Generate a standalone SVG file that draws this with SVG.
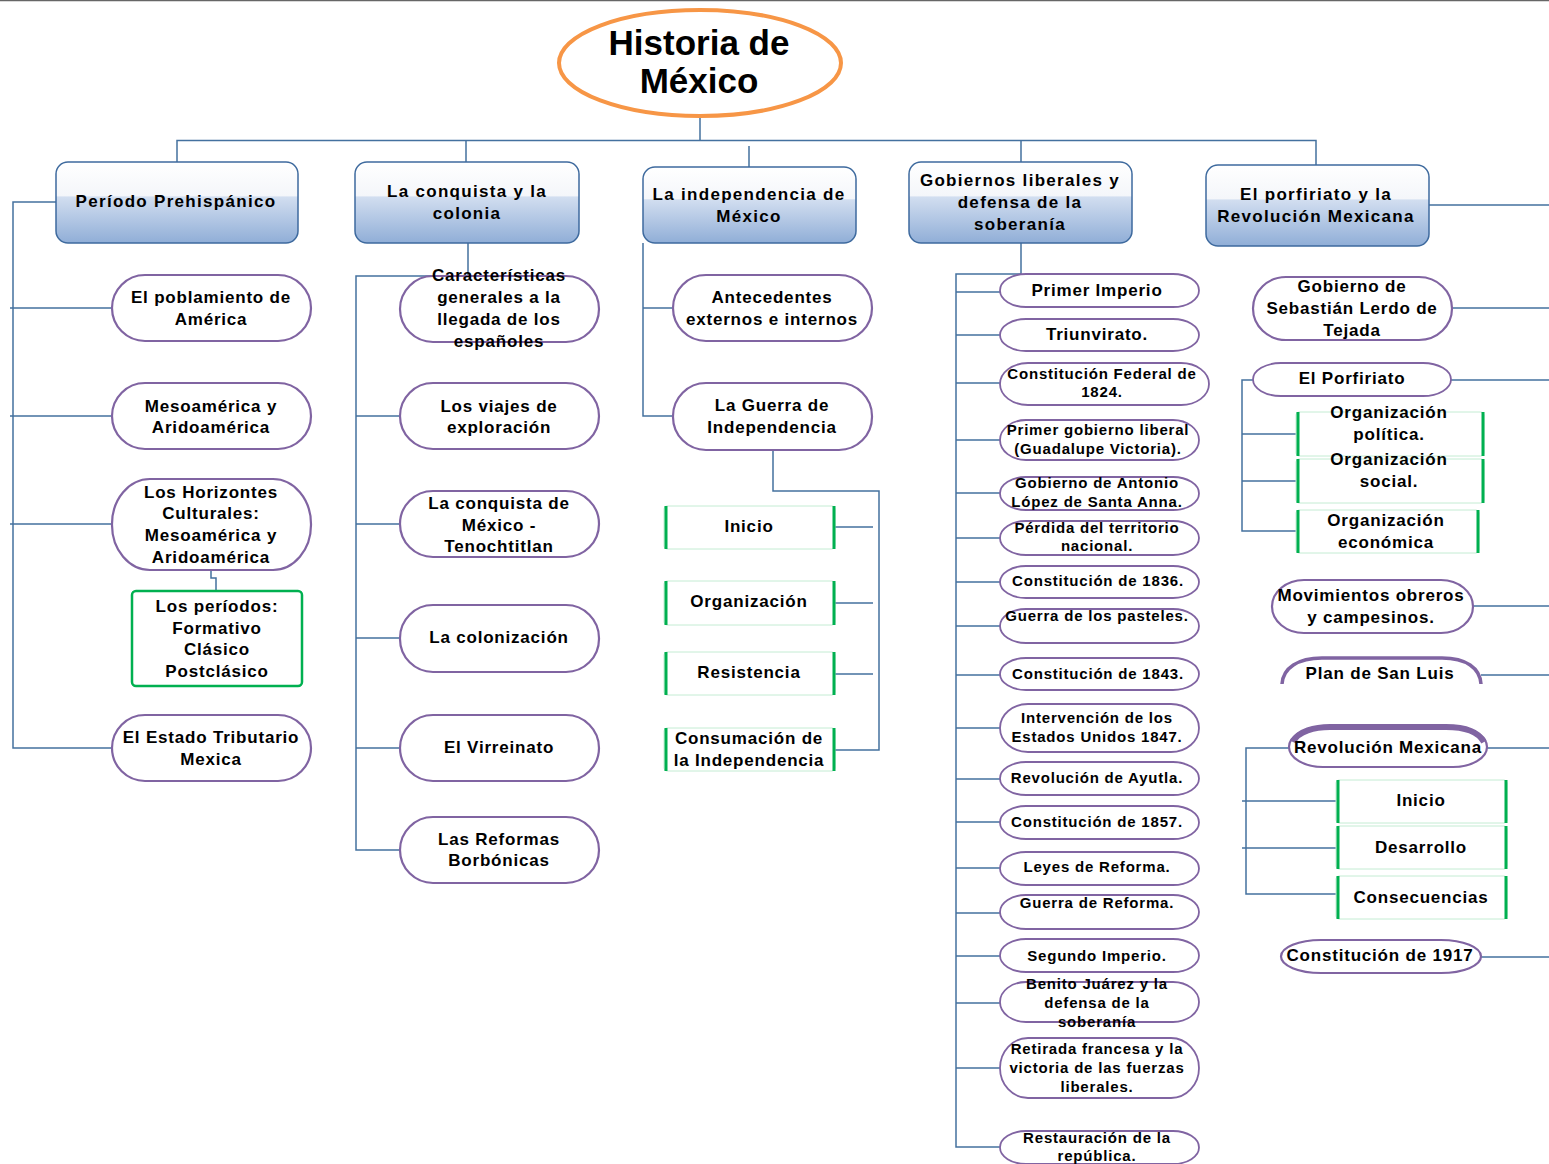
<svg xmlns="http://www.w3.org/2000/svg" width="1549" height="1164" viewBox="0 0 1549 1164">
<defs>
<linearGradient id="hg" x1="0" y1="0" x2="0" y2="1">
<stop offset="0" stop-color="#ffffff"/><stop offset="0.42" stop-color="#f4f6fa"/><stop offset="0.43" stop-color="#d2def0"/><stop offset="1" stop-color="#90aed7"/>
</linearGradient>
<style>
text{font-family:"Liberation Sans",Arial,sans-serif;font-weight:bold;fill:#000;text-anchor:middle}
.t{font-size:35px}
.h{font-size:17px;letter-spacing:1.3px}
.n{font-size:17px;letter-spacing:0.8px}
.s{font-size:15px;letter-spacing:0.8px}
.hdr{fill:url(#hg);stroke:#3e6a9e;stroke-width:1.5}
.pill{fill:#fff;stroke:#8064a2;stroke-width:2.2}
.sp{fill:#fff;stroke:#8064a2;stroke-width:1.8}
.gb{fill:#fff;stroke:#c4ecd3;stroke-width:1}
.gs{stroke:#00b050;stroke-width:3;fill:none}
.gf{fill:#fff;stroke:#00b050;stroke-width:2.5}
#connectors path{fill:none;stroke:#44719f;stroke-width:1.5}
</style>
</defs>
<rect width="1549" height="1164" fill="#fff"/>
<line x1="0" y1="0.5" x2="1549" y2="0.5" stroke="#666" stroke-width="1.5"/>

<g id="connectors">
<path d="M700,116 V140.5 H177 V162 M700,140.5 H1316 V165 M466,140.5 V162 M749,146 V167 M1021,140.5 V162"/>
<path d="M56,202 H13 V748 H112 M10,308 H112 M10,416 H112 M10,524 H112 M211,570 V578 H216 V591"/>
<path d="M468,243 V276 H356 V850 H400 M356,416 H400 M356,524 H400 M356,638 H400 M356,748 H400"/>
<path d="M643,243 V416 H673 M643,308 H673 M773,450 V491 H879 V750 H835 M835,527 H873 M835,603 H873 M835,674 H873"/>
<path d="M1021,243 V274 H956 V1147 H1000 M956,292 H1000 M956,335 H1000 M956,383 H1000 M956,440 H1000 M956,493 H1000 M956,538 H1000 M956,582 H1000 M956,626 H1000 M956,675 H1000 M956,728 H1000 M956,779 H1000 M956,822 H1000 M956,868 H1000 M956,913 H1000 M956,956 H1000 M956,1003 H1000 M956,1068 H1000"/>
<path d="M1429,205 H1549 M1452,308 H1549 M1451,380 H1549 M1253,380 H1242 V531 H1296 M1242,434 H1296 M1242,481 H1296 M1473,606 H1549 M1481,675 H1549 M1487,748 H1549 M1289,748 H1246 V894 H1336 M1242,801 H1336 M1242,848 H1336 M1481,957 H1549"/>
</g>

<g id="root">
<ellipse cx="700" cy="63" rx="141" ry="53" fill="#fff" stroke="#f79646" stroke-width="4"/>
<text class="t" x="699" y="55">Historia de</text>
<text class="t" x="699" y="93">México</text>
</g>

<g id="h1"><rect class="hdr" x="56" y="162" width="242" height="81" rx="12"/><text class="h" x="176" y="207">Período Prehispánico</text></g>
<g id="h2"><rect class="hdr" x="355" y="162" width="224" height="81" rx="12"/><text class="h" x="467" y="197">La conquista y la</text><text class="h" x="467" y="219">colonia</text></g>
<g id="h3"><rect class="hdr" x="643" y="167" width="213" height="76" rx="12"/><text class="h" x="749" y="200">La independencia de</text><text class="h" x="749" y="222">México</text></g>
<g id="h4"><rect class="hdr" x="909" y="162" width="223" height="81" rx="12"/><text class="h" x="1020" y="186">Gobiernos liberales y</text><text class="h" x="1020" y="208">defensa de la</text><text class="h" x="1020" y="230">soberanía</text></g>
<g id="h5"><rect class="hdr" x="1206" y="165" width="223" height="81" rx="12"/><text class="h" x="1316" y="200">El porfiriato y la</text><text class="h" x="1316" y="222">Revolución Mexicana</text></g>

<!-- column 1 -->
<g id="c1a"><rect class="pill" x="112" y="275" width="199" height="66" rx="33"/><text class="n" x="211" y="303">El poblamiento de</text><text class="n" x="211" y="325">América</text></g>
<g id="c1b"><rect class="pill" x="112" y="383" width="199" height="66" rx="33"/><text class="n" x="211" y="412">Mesoamérica y</text><text class="n" x="211" y="433">Aridoamérica</text></g>
<g id="c1c"><rect class="pill" x="112" y="479" width="199" height="91" rx="38" ry="45"/><text class="n" x="211" y="498">Los Horizontes</text><text class="n" x="211" y="519">Culturales:</text><text class="n" x="211" y="541">Mesoamérica y</text><text class="n" x="211" y="563">Aridoamérica</text></g>
<g id="c1d"><rect class="gf" x="132" y="591" width="170" height="95" rx="4"/><text class="n" x="217" y="612">Los períodos:</text><text class="n" x="217" y="634">Formativo</text><text class="n" x="217" y="655">Clásico</text><text class="n" x="217" y="677">Postclásico</text></g>
<g id="c1e"><rect class="pill" x="112" y="715" width="199" height="66" rx="33"/><text class="n" x="211" y="743">El Estado Tributario</text><text class="n" x="211" y="765">Mexica</text></g>

<!-- column 2 -->
<g id="c2a"><rect class="pill" x="400" y="276" width="199" height="66" rx="33"/><text class="n" x="499" y="281">Características</text><text class="n" x="499" y="303">generales a la</text><text class="n" x="499" y="325">llegada de los</text><text class="n" x="499" y="347">españoles</text></g>
<g id="c2b"><rect class="pill" x="400" y="383" width="199" height="66" rx="33"/><text class="n" x="499" y="412">Los viajes de</text><text class="n" x="499" y="433">exploración</text></g>
<g id="c2c"><rect class="pill" x="400" y="491" width="199" height="66" rx="33"/><text class="n" x="499" y="509">La conquista de</text><text class="n" x="499" y="531">México -</text><text class="n" x="499" y="552">Tenochtitlan</text></g>
<g id="c2d"><rect class="pill" x="400" y="605" width="199" height="67" rx="33"/><text class="n" x="499" y="643">La colonización</text></g>
<g id="c2e"><rect class="pill" x="400" y="715" width="199" height="66" rx="33"/><text class="n" x="499" y="753">El Virreinato</text></g>
<g id="c2f"><rect class="pill" x="400" y="817" width="199" height="66" rx="33"/><text class="n" x="499" y="845">Las Reformas</text><text class="n" x="499" y="866">Borbónicas</text></g>

<!-- column 3 -->
<g id="c3a"><rect class="pill" x="673" y="275" width="199" height="66" rx="33"/><text class="n" x="772" y="303">Antecedentes</text><text class="n" x="772" y="325">externos e internos</text></g>
<g id="c3b"><rect class="pill" x="673" y="383" width="199" height="67" rx="33"/><text class="n" x="772" y="411">La Guerra de</text><text class="n" x="772" y="433">Independencia</text></g>
<g id="c3c"><rect class="gb" x="664" y="506" width="171" height="43" rx="3"/><path class="gs" d="M666,506 V549 M834,506 V549"/><text class="n" x="749" y="532">Inicio</text></g>
<g id="c3d"><rect class="gb" x="664" y="581" width="171" height="44" rx="3"/><path class="gs" d="M666,581 V625 M834,581 V625"/><text class="n" x="749" y="607">Organización</text></g>
<g id="c3e"><rect class="gb" x="664" y="652" width="171" height="43" rx="3"/><path class="gs" d="M666,652 V695 M834,652 V695"/><text class="n" x="749" y="678">Resistencia</text></g>
<g id="c3f"><rect class="gb" x="664" y="728" width="171" height="43" rx="3"/><path class="gs" d="M666,728 V771 M834,728 V771"/><text class="n" x="749" y="744">Consumación de</text><text class="n" x="749" y="766">la Independencia</text></g>

<!-- column 4 -->
<g id="c4a"><rect class="sp" x="1000" y="274" width="199" height="33" rx="26" ry="16.5"/><text class="n" x="1097" y="296">Primer Imperio</text></g>
<g id="c4b"><rect class="sp" x="1000" y="319" width="199" height="32" rx="26" ry="16"/><text class="n" x="1097" y="340">Triunvirato.</text></g>
<g id="c4c"><rect class="sp" x="1000" y="363" width="209" height="42" rx="28" ry="21"/><text class="s" x="1102" y="379">Constitución Federal de</text><text class="s" x="1102" y="397">1824.</text></g>
<g id="c4d"><rect class="sp" x="1000" y="420" width="199" height="40" rx="26" ry="20"/><text class="s" x="1098" y="435">Primer gobierno liberal</text><text class="s" x="1098" y="454">(Guadalupe Victoria).</text></g>
<g id="c4e"><rect class="sp" x="1000" y="477" width="199" height="33" rx="26" ry="16.5"/><text class="s" x="1097" y="488">Gobierno de Antonio</text><text class="s" x="1097" y="507">López de Santa Anna.</text></g>
<g id="c4f"><rect class="sp" x="1000" y="521" width="199" height="34" rx="26" ry="17"/><text class="s" x="1097" y="533">Pérdida del territorio</text><text class="s" x="1097" y="551">nacional.</text></g>
<g id="c4g"><rect class="sp" x="1000" y="566" width="199" height="32" rx="26" ry="16"/><text class="s" x="1098" y="586">Constitución de 1836.</text></g>
<g id="c4h"><rect class="sp" x="1000" y="609" width="199" height="34" rx="26" ry="17"/><text class="s" x="1097" y="621">Guerra de los pasteles.</text></g>
<g id="c4i"><rect class="sp" x="1000" y="658" width="199" height="32" rx="26" ry="16"/><text class="s" x="1098" y="679">Constitución de 1843.</text></g>
<g id="c4j"><rect class="sp" x="1000" y="704" width="199" height="48" rx="28" ry="24"/><text class="s" x="1097" y="723">Intervención de los</text><text class="s" x="1097" y="742">Estados Unidos 1847.</text></g>
<g id="c4k"><rect class="sp" x="1000" y="762" width="199" height="33" rx="26" ry="16.5"/><text class="s" x="1097" y="783">Revolución de Ayutla.</text></g>
<g id="c4l"><rect class="sp" x="1000" y="806" width="199" height="33" rx="26" ry="16.5"/><text class="s" x="1097" y="827">Constitución de 1857.</text></g>
<g id="c4m"><rect class="sp" x="1000" y="852" width="199" height="33" rx="26" ry="16.5"/><text class="s" x="1097" y="872">Leyes de Reforma.</text></g>
<g id="c4n"><rect class="sp" x="1000" y="895" width="199" height="34" rx="26" ry="17"/><text class="s" x="1097" y="908">Guerra de Reforma.</text></g>
<g id="c4o"><rect class="sp" x="1000" y="939" width="199" height="33" rx="26" ry="16.5"/><text class="s" x="1097" y="961">Segundo Imperio.</text></g>
<g id="c4p"><rect class="sp" x="1000" y="982" width="199" height="40" rx="26" ry="20"/><text class="s" x="1097" y="989">Benito Juárez y la</text><text class="s" x="1097" y="1008">defensa de la</text><text class="s" x="1097" y="1027">soberanía</text></g>
<g id="c4q"><rect class="sp" x="1000" y="1038" width="199" height="60" rx="28" ry="30"/><text class="s" x="1097" y="1054">Retirada francesa y la</text><text class="s" x="1097" y="1073">victoria de las fuerzas</text><text class="s" x="1097" y="1092">liberales.</text></g>
<g id="c4r"><rect class="sp" x="1000" y="1131" width="199" height="33" rx="26" ry="16.5"/><text class="s" x="1097" y="1143">Restauración de la</text><text class="s" x="1097" y="1161">república.</text></g>

<!-- column 5 -->
<g id="c5a"><rect class="pill" x="1253" y="277" width="199" height="63" rx="33" ry="31.5"/><text class="n" x="1352" y="292">Gobierno de</text><text class="n" x="1352" y="314">Sebastián Lerdo de</text><text class="n" x="1352" y="336">Tejada</text></g>
<g id="c5b"><rect class="sp" x="1253" y="363" width="198" height="33" rx="28" ry="16.5"/><text class="n" x="1352" y="384">El Porfiriato</text></g>
<g id="c5c"><rect class="gb" x="1296" y="412" width="188" height="44" rx="3"/><path class="gs" d="M1298,412 V456 M1483,412 V456"/><text class="n" x="1389" y="418">Organización</text><text class="n" x="1389" y="440">política.</text></g>
<g id="c5d"><rect class="gb" x="1296" y="459" width="188" height="44" rx="3"/><path class="gs" d="M1298,459 V503 M1483,459 V503"/><text class="n" x="1389" y="465">Organización</text><text class="n" x="1389" y="487">social.</text></g>
<g id="c5e"><rect class="gb" x="1296" y="510" width="183" height="43" rx="3"/><path class="gs" d="M1298,510 V553 M1478,510 V553"/><text class="n" x="1386" y="526">Organización</text><text class="n" x="1386" y="548">económica</text></g>
<g id="c5f"><rect class="pill" x="1272" y="580" width="201" height="53" rx="32" ry="26.5"/><text class="n" x="1371" y="601">Movimientos obreros</text><text class="n" x="1371" y="623">y campesinos.</text></g>
<g id="c5g"><path d="M1282,684 C1283,668 1298,658 1322,658 H1442 C1466,658 1480,668 1481,684" fill="#fff" stroke="#8064a2" stroke-width="3.5"/><text class="n" x="1380" y="679">Plan de San Luis</text></g>
<g id="c5h"><rect class="pill" x="1289" y="727" width="198" height="40" rx="34" ry="20"/><path d="M1293,742 C1298,731 1315,727 1330,727 H1446 C1464,727 1478,731 1484,742" fill="none" stroke="#8064a2" stroke-width="6"/><text class="n" x="1388" y="753">Revolución Mexicana</text></g>
<g id="c5i"><rect class="gb" x="1336" y="780" width="171" height="43" rx="3"/><path class="gs" d="M1338,780 V823 M1506,780 V823"/><text class="n" x="1421" y="806">Inicio</text></g>
<g id="c5j"><rect class="gb" x="1336" y="826" width="171" height="43" rx="3"/><path class="gs" d="M1338,826 V869 M1506,826 V869"/><text class="n" x="1421" y="853">Desarrollo</text></g>
<g id="c5k"><rect class="gb" x="1336" y="876" width="171" height="43" rx="3"/><path class="gs" d="M1338,876 V919 M1506,876 V919"/><text class="n" x="1421" y="903">Consecuencias</text></g>
<g id="c5l"><rect class="pill" x="1281" y="940" width="200" height="33" rx="40" ry="16.5"/><text class="n" x="1380" y="961">Constitución de 1917</text></g>
</svg>
